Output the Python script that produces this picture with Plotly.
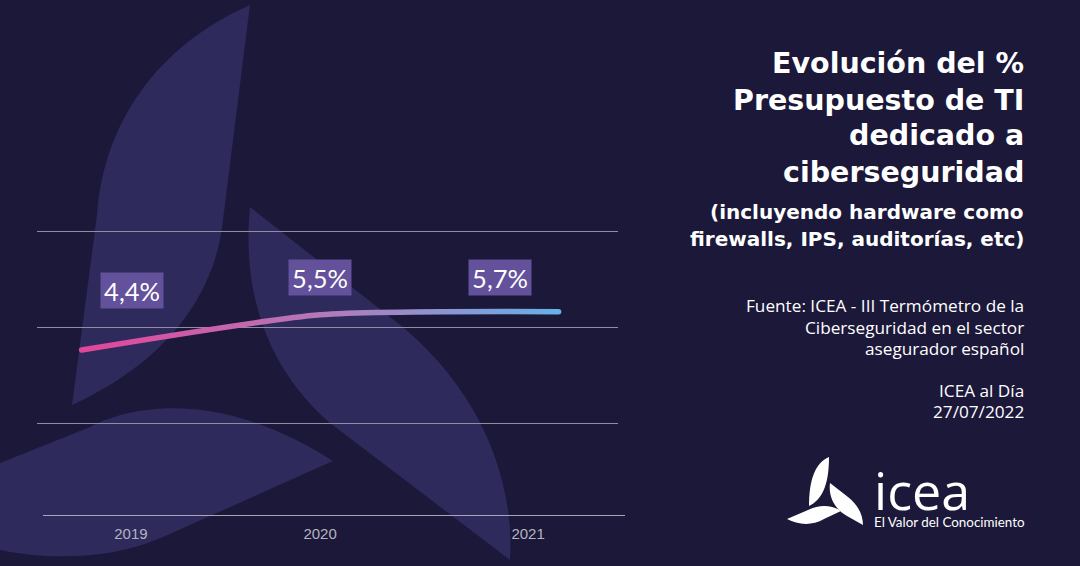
import plotly.graph_objects as go

W, H = 1080, 566
BG = "#1C1839"
LEAF = "#2E2A5B"

years = [2019, 2020, 2021]
line_values = [4.4, 5.5, 5.6]
value_labels = ["4,4%", "5,5%", "5,7%"]
label_shift_x = [50, 0, -59]
label_shift_y = [60, 37, 34]
tick_positions = [2019.207, 2020, 2020.872]
tick_labels = ["2019", "2020", "2021"]
grid_values = [2.12, 5.12, 8.12]

title_lines = ["Evolución del %", "Presupuesto de TI", "dedicado a", "ciberseguridad"]
title_y = [63, 100, 136, 173]
sub_lines = ["(incluyendo hardware como", "firewalls, IPS, auditorías, etc)"]
sub_y = [212, 239]
source_lines = ["Fuente: ICEA - III Termómetro de la", "Ciberseguridad en el sector", "asegurador español", "ICEA al Día", "27/07/2022"]
source_y = [305, 327, 348, 390, 411]


def px(d):
    """Convert a path written in page pixels (y down) to paper coordinates."""
    out = []
    for tok in d.split():
        if "," in tok:
            a, b = tok.split(",")
            out.append(f"{float(a)/W:.5f},{1-float(b)/H:.5f}")
        else:
            out.append(tok)
    return " ".join(out)


leaves = [
    "M 72,405 L 97,215 C 105,110 170,40 250,5 L 223,220 C 215,300 160,365 72,405 Z",
    "M 250,207 L 390,317 C 480,385 515,480 510,560 L 330,423 C 280,380 240,310 250,207 Z",
    "M 0,463 L 90,427 C 125,408 215,385 333,461 L 163,537 C 110,560 50,560 0,550 Z",
]
logo = [
    "M 829,457 C 815,463 809,480 809,506 C 821,500 829,487 829,457 Z",
    "M 830,483 L 848,497 C 858,505 863,515 863,525 L 847,516 C 836,510 828,498 830,483 Z",
    "M 787,519 L 808,510 C 820,504 832,505 841,511 L 824,519 C 812,526 798,525 787,519 Z",
]
shapes = [dict(type="path", xref="paper", yref="paper", path=px(p), fillcolor=LEAF, line_width=0, layer="below") for p in leaves]
shapes += [dict(type="path", xref="paper", yref="paper", path=px(p), fillcolor="white", line_width=0) for p in logo]
shapes.append(dict(type="line", xref="paper", yref="paper", x0=43/W, x1=625/W, y0=1-515.5/H, y1=1-515.5/H,
                   line=dict(color="#A8A5B8", width=1), layer="below"))

fig = go.Figure(go.Scatter(x=years, y=line_values, mode="lines",
                           line=dict(color="#C060A8", width=5.5, shape="spline", smoothing=0.6),
                           hoverinfo="skip", showlegend=False))

ann = []
for x, y, t, sx, sy in zip(years, line_values, value_labels, label_shift_x, label_shift_y):
    ann.append(dict(x=x, y=y, xref="x", yref="y", text=t, showarrow=False, xshift=sx, yshift=sy,
                    width=62, height=35, borderpad=0, bgcolor="#63519B", align="center", valign="middle",
                    font=dict(family="Lato", size=25.5, color="white")))


def right_text(t, y, size, weight, family):
    ann.append(dict(x=1026/W, y=1-y/H, xref="paper", yref="paper", text=t, showarrow=False,
                    xanchor="right", yanchor="middle", align="right",
                    font=dict(family=family, size=size, color="white", weight=weight)))


for t, y in zip(title_lines, title_y):
    right_text(t, y, 28.5, 700, "DejaVu Sans")
for t, y in zip(sub_lines, sub_y):
    right_text(t, y, 20, 700, "DejaVu Sans")
for t, y in zip(source_lines, source_y):
    right_text(t, y, 17.2, 400, "Open Sans")

logo_text = ('<span style="font-size:52px;font-family:\'Open Sans\';font-weight:400">icea</span>'
             '<br>El Valor del Conocimiento')
ann.append(dict(x=872/W, y=1-492/H, xref="paper", yref="paper", text=logo_text, showarrow=False,
                xanchor="left", yanchor="middle", align="left",
                font=dict(family="Lato", size=13.4, color="white")))

x0 = 2019 - (81.6 - 37) / 238.5
x1 = x0 + (618 - 37) / 238.5
y_top_px = 225
fig.update_layout(
    width=W, height=H, margin=dict(l=0, r=0, t=0, b=0),
    paper_bgcolor=BG, plot_bgcolor="rgba(0,0,0,0)",
    shapes=shapes, annotations=ann,
    xaxis=dict(domain=[37/W, 618/W], range=[x0, x1], tickmode="array", tickvals=tick_positions, ticktext=tick_labels,
               showgrid=False, zeroline=False, showline=False, ticks="outside", ticklen=5, tickcolor="rgba(0,0,0,0)",
               tickfont=dict(family="Liberation Sans", size=15, color="#B5B3C2")),
    yaxis=dict(domain=[1-515/H, 1-y_top_px/H], range=[8.12 - 284/32, 8.12 + (231-y_top_px)/32], tickmode="array", tickvals=grid_values,
               showticklabels=False, showgrid=True, gridcolor="#8F8CA3", gridwidth=1, zeroline=False, showline=False),
)

post = """
document.body.style.margin = '0';
var gd = document.getElementById('{plot_id}');
var svg = gd.querySelector('svg.main-svg');
var ns = 'http://www.w3.org/2000/svg';
var defs = svg.querySelector('defs') || svg.insertBefore(document.createElementNS(ns, 'defs'), svg.firstChild);
var g = document.createElementNS(ns, 'linearGradient');
g.setAttribute('id', 'lineGrad');
[['0%', '#E2469A'], ['50%', '#B478B8'], ['100%', '#66B0E8']].forEach(function (s) {
  var st = document.createElementNS(ns, 'stop');
  st.setAttribute('offset', s[0]);
  st.setAttribute('stop-color', s[1]);
  g.appendChild(st);
});
defs.appendChild(g);
var p = gd.querySelector('.scatterlayer .js-line');
p.style.stroke = 'url(#lineGrad)';
p.style.strokeLinecap = 'round';
"""
fig.write_html("out.html", post_script=post, config=dict(displayModeBar=False))
